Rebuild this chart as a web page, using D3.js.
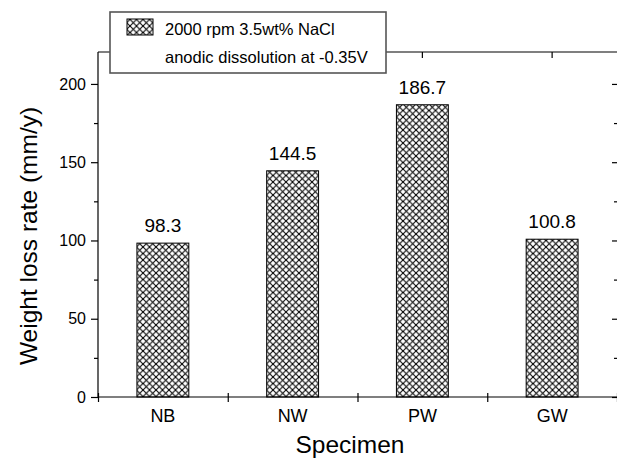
<!DOCTYPE html>
<html>
<head>
<meta charset="utf-8">
<script src="https://cdn.jsdelivr.net/npm/d3@7"></script>
<style>
  html, body { margin: 0; padding: 0; background: #fff; }
  svg { display: block; font-family: Arial, "Liberation Sans", sans-serif; }
  .axis path, .axis line { stroke: #000; stroke-width: 1.2; }
  .axis text { fill: #000; }
</style>
</head>
<body>
<svg id="chart" width="617" height="462"></svg>
<script>
/* ── Data ─────────────────────────────────────────────────────────── */
const specimens = ['NB', 'NW', 'PW', 'GW'];
const lossRates = [98.3, 144.5, 186.7, 100.8];
const yTicks = [0, 50, 100, 150, 200];
const yMinorTicks = [25, 75, 125, 175];
const legendLines = ['2000 rpm 3.5wt% NaCl', 'anodic dissolution at -0.35V'];

/* ── Layout ───────────────────────────────────────────────────────── */
const M = { left: 98, right: 617, top: 52, bottom: 397 };

const svg = d3.select('#chart');

const x = d3.scaleBand().domain(specimens)
  .range([M.left, M.right]).paddingInner(0.6).paddingOuter(0.3);
const xEdge = d3.scaleLinear().domain([0, specimens.length]).range([M.left, M.right]);
const y = d3.scaleLinear().domain([0, 220.4]).range([M.bottom, M.top]);

/* crosshatch pattern */
const defs = svg.append('defs');
const pat = defs.append('pattern')
  .attr('id', 'hatch').attr('patternUnits', 'userSpaceOnUse')
  .attr('width', 6.5).attr('height', 6.5);
pat.append('rect').attr('width', 6.5).attr('height', 6.5).attr('fill', '#fff');
pat.append('path').attr('d', 'M-1,1 l2,-2 M0,6.5 l6.5,-6.5 M5.5,7.5 l2,-2')
  .attr('stroke', '#000').attr('stroke-width', 1.1);
pat.append('path').attr('d', 'M-1,5.5 l2,2 M0,0 l6.5,6.5 M5.5,-1 l2,2')
  .attr('stroke', '#000').attr('stroke-width', 1.1);

/* ── Bars ─────────────────────────────────────────────────────────── */
const data = specimens.map((s, i) => ({ s, v: lossRates[i] }));

svg.append('g').selectAll('rect')
  .data(data).enter().append('rect')
  .attr('x', d => x(d.s))
  .attr('y', d => y(d.v))
  .attr('width', x.bandwidth())
  .attr('height', d => y(0) - y(d.v))
  .attr('fill', 'url(#hatch)')
  .attr('stroke', '#000').attr('stroke-width', 1);

svg.append('g').selectAll('text')
  .data(data).enter().append('text')
  .attr('x', d => x(d.s) + x.bandwidth() / 2)
  .attr('y', d => y(d.v) - 11)
  .attr('text-anchor', 'middle')
  .attr('font-size', 19)
  .text(d => d.v.toFixed(1));

/* ── Axes ─────────────────────────────────────────────────────────── */
// left
const yAxis = svg.append('g').attr('class', 'axis')
  .attr('transform', `translate(${M.left},0)`)
  .call(d3.axisLeft(y).tickValues(yTicks).tickSize(7).tickSizeOuter(0).tickPadding(5));
yAxis.selectAll('text').attr('font-size', 16).attr('font-family', 'Arial, "Liberation Sans", sans-serif');
yAxis.select('.domain').attr('d', `M0,${M.bottom}V${M.top}`);
svg.append('g').attr('class', 'axis')
  .attr('transform', `translate(${M.left},0)`)
  .call(d3.axisLeft(y).tickValues(yMinorTicks).tickSize(4).tickFormat(''))
  .select('.domain').remove();

// right (ticks inward)
svg.append('g').attr('class', 'axis')
  .attr('transform', `translate(${M.right},0)`)
  .call(d3.axisLeft(y).tickValues(yTicks).tickSize(5).tickFormat(''))
  .select('.domain').remove();
svg.append('g').attr('class', 'axis')
  .attr('transform', `translate(${M.right},0)`)
  .call(d3.axisLeft(y).tickValues(yMinorTicks).tickSize(3).tickFormat(''))
  .select('.domain').remove();

// bottom: boundary ticks crossing the axis, labels at bar centres
const xTicksG = svg.append('g').attr('class', 'axis')
  .attr('transform', `translate(0,${M.bottom})`)
  .call(d3.axisBottom(xEdge).ticks(specimens.length).tickSize(5).tickFormat(''));
xTicksG.select('.domain').attr('d', `M${M.left},0H${M.right}`);
xTicksG.selectAll('.tick line').attr('y1', -4);

const xLab = svg.append('g').attr('class', 'axis')
  .attr('transform', `translate(0,${M.bottom})`)
  .call(d3.axisBottom(x).tickSize(0).tickPadding(12));
xLab.select('.domain').remove();
xLab.selectAll('text').attr('font-size', 18).attr('font-family', 'Arial, "Liberation Sans", sans-serif');

// top: ticks at bar centres, pointing in
const xTop = svg.append('g').attr('class', 'axis')
  .attr('transform', `translate(0,${M.top})`)
  .call(d3.axisBottom(x).tickSize(6).tickFormat(''));
xTop.select('.domain').attr('d', `M${M.left},0H${M.right}`);

/* ── Titles ───────────────────────────────────────────────────────── */
svg.append('text')
  .attr('x', 350).attr('y', 453)
  .attr('text-anchor', 'middle').attr('font-size', 24.5)
  .text('Specimen');

svg.append('text')
  .attr('transform', 'translate(37,236) rotate(-90)')
  .attr('text-anchor', 'middle').attr('font-size', 24.5)
  .text('Weight loss rate (mm/y)');

/* ── Legend ───────────────────────────────────────────────────────── */
const leg = svg.append('g');
leg.append('rect')
  .attr('x', 110).attr('y', 12).attr('width', 276).attr('height', 61)
  .attr('fill', '#fff').attr('stroke', '#555').attr('stroke-width', 1.6);
leg.append('rect')
  .attr('x', 127).attr('y', 19).attr('width', 26).attr('height', 16)
  .attr('fill', 'url(#hatch)').attr('stroke', '#000').attr('stroke-width', 1);
leg.selectAll('text.lg')
  .data(legendLines).enter().append('text')
  .attr('class', 'lg')
  .attr('x', 165)
  .attr('y', (d, i) => 35 + i * 28)
  .attr('font-size', 16.5)
  .text(d => d);
</script>
</body>
</html>
